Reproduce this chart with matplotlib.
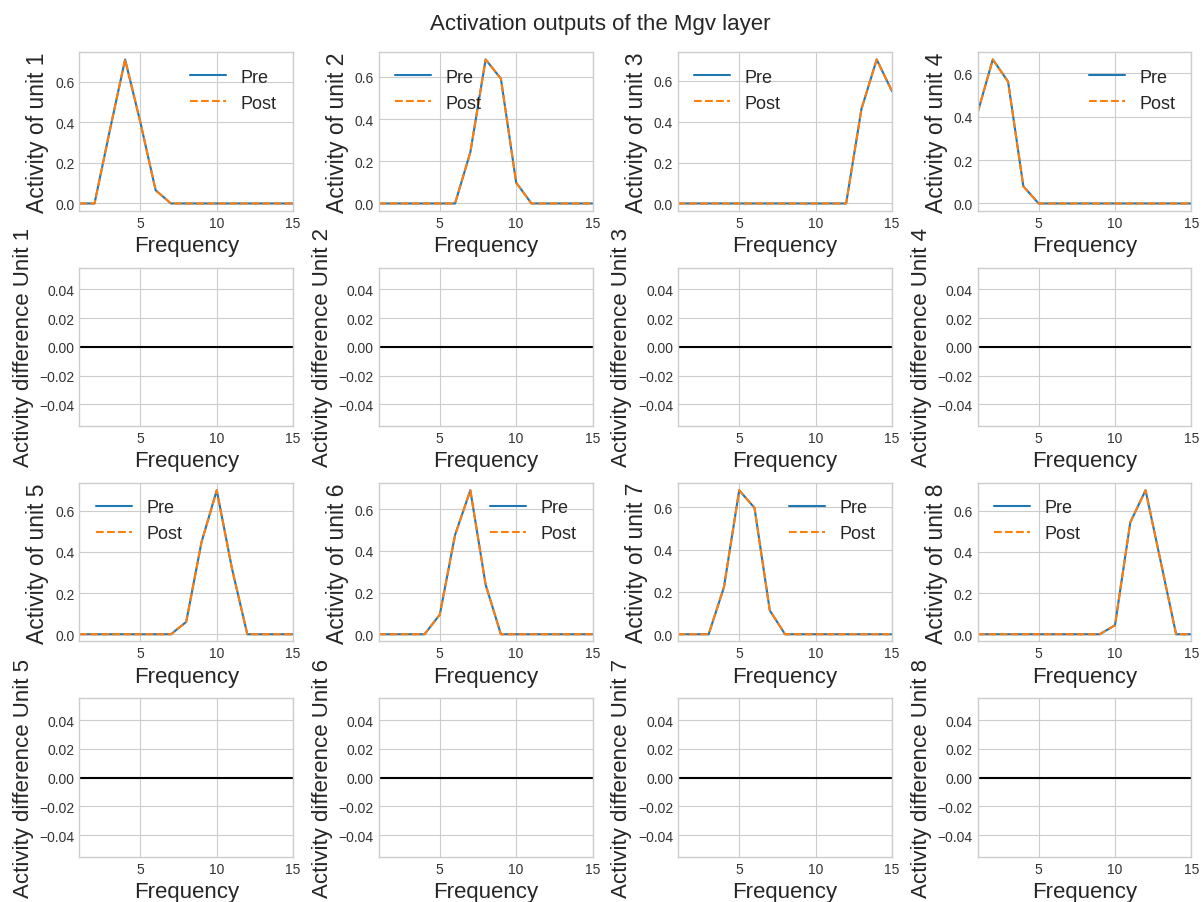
import numpy as np
import matplotlib
matplotlib.use("Agg")
import matplotlib.pyplot as plt
from matplotlib.ticker import MultipleLocator

plt.style.use("seaborn-v0_8-whitegrid")
plt.rcParams['font.family'] = ['Liberation Sans', 'DejaVu Sans']

frequency = list(range(1, 16))

unit1 = [0, 0, 0.36, 0.71, 0.40, 0.065, 0, 0, 0, 0, 0, 0, 0, 0, 0]
unit2 = [0, 0, 0, 0, 0, 0, 0.243, 0.683, 0.592, 0.099, 0, 0, 0, 0, 0]
unit3 = [0, 0, 0, 0, 0, 0, 0, 0, 0, 0, 0, 0, 0.462, 0.705, 0.55]
unit4 = [0.417, 0.664, 0.562, 0.079, 0, 0, 0, 0, 0, 0, 0, 0, 0, 0, 0]
unit5 = [0, 0, 0, 0, 0, 0, 0, 0.06, 0.447, 0.70, 0.318, 0, 0, 0, 0]
unit6 = [0, 0, 0, 0, 0.094, 0.476, 0.69, 0.238, 0, 0, 0, 0, 0, 0, 0]
unit7 = [0, 0, 0, 0.222, 0.68, 0.597, 0.113, 0, 0, 0, 0, 0, 0, 0, 0]
unit8 = [0, 0, 0, 0, 0, 0, 0, 0, 0, 0.044, 0.544, 0.70, 0.35, 0, 0]

pre_units = [unit1, unit2, unit3, unit4, unit5, unit6, unit7, unit8]
post_units = [list(u) for u in pre_units]
legend_locs = ['upper right', 'upper left', 'upper left', 'upper right',
               'upper left', 'upper right', 'upper right', 'upper left']

fig, axes = plt.subplots(4, 4, figsize=(12.01, 9.03), dpi=100)
fig.subplots_adjust(left=0.066, right=0.992, top=0.941, bottom=0.050,
                    wspace=0.40, hspace=0.36)
fig.suptitle("Activation outputs of the Mgv layer", fontsize=16, y=0.985)

for i in range(8):
    r = (i // 4) * 2
    c = i % 4
    ax = axes[r, c]
    pre = np.array(pre_units[i])
    post = np.array(post_units[i])
    ax.plot(frequency, pre, '-', color='#1f77b4', label='Pre')
    ax.plot(frequency, post, '--', color='#ff7f0e', label='Post')
    ax.set_xlim(1, 15)
    ax.yaxis.set_major_locator(MultipleLocator(0.2))
    ax.set_xlabel("Frequency", fontsize=16)
    ax.set_ylabel(f"Activity of unit {i+1}", fontsize=16.5)
    ax.legend(loc=legend_locs[i], fontsize=13)

    ax2 = axes[r + 1, c]
    ax2.plot(frequency, post - pre, '-', color='black')
    ax2.set_xlim(1, 15)
    ax2.yaxis.set_major_locator(MultipleLocator(0.02))
    ax2.set_xlabel("Frequency", fontsize=16)
    ax2.set_ylabel(f"Activity difference Unit {i+1}", fontsize=16)

for ax in axes.flat:
    ax.xaxis.set_major_locator(MultipleLocator(5))
    ax.tick_params(labelsize=10, labelcolor='#333333')
    for s in ax.spines.values():
        s.set_visible(True)
        s.set_color('#cccccc')

fig.savefig("out.png", dpi=100)
